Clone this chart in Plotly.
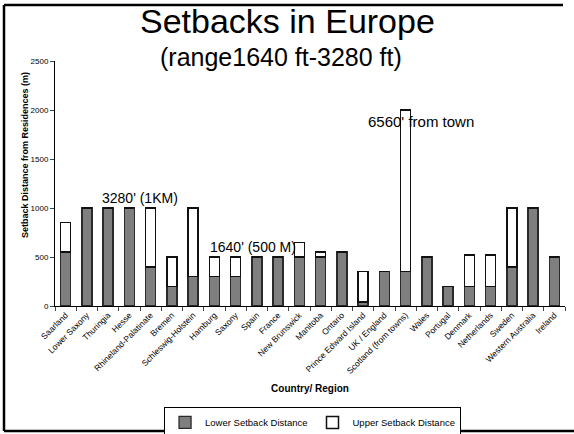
import plotly.graph_objects as go

categories = ["Saarland", "Lower Saxony", "Thuringia", "Hesse", "Rhineland-Palatinate", "Bremen",
              "Schleswig-Holstein", "Hamburg", "Saxony", "Spain", "France", "New Brunswick",
              "Manitoba", "Ontario", "Prince Edward Island", "UK / England", "Scotland (from towns)",
              "Wales", "Portugal", "Denmark", "Netherlands", "Sweden", "Western Australia", "Ireland"]
lower = [550, 1000, 1000, 1000, 400, 200, 300, 300, 300, 500, 500, 500,
         500, 550, 40, 350, 350, 500, 200, 200, 200, 400, 1000, 500]
total = [850, 1000, 1000, 1000, 1000, 500, 1000, 500, 500, 500, 500, 650,
         550, 550, 350, 350, 2000, 500, 200, 520, 520, 1000, 1000, 500]
upper = [t - l for t, l in zip(total, lower)]

FONT = "Liberation Sans, Arial, sans-serif"

fig = go.Figure()
fig.add_trace(go.Bar(x=categories, y=lower, name="Lower Setback Distance",
                     marker=dict(color="#7f7f7f", line=dict(color="#2a2a2a", width=1.3))))
fig.add_trace(go.Bar(x=categories, y=upper, name="Upper Setback Distance",
                     marker=dict(color="white", line=dict(color="#111111", width=1.5))))

# plot area: x 55..565, y 61..306 (pixels)
fig.update_layout(
    barmode="stack", bargap=0.53,
    width=574, height=434,
    margin=dict(l=55, r=9, t=61, b=128, autoexpand=False),
    paper_bgcolor="white", plot_bgcolor="white",
    font=dict(family=FONT, color="black"),
    showlegend=True,
    legend=dict(orientation="h", x=0.505, xanchor="center", y=-0.475, yanchor="middle",
                bordercolor="black", borderwidth=1, font=dict(size=9.5), traceorder="normal",
                itemwidth=30, bgcolor="white"),
)
fig.update_xaxes(showline=True, linecolor="black", linewidth=1, ticks="outside", ticklen=4,
                 tickson="boundaries", tickangle=-45, tickfont=dict(size=8.5),
                 title=dict(text="<b>Country/ Region</b>", font=dict(size=10), standoff=10))
fig.update_yaxes(range=[0, 2500], dtick=500, showline=True, linecolor="black", linewidth=1,
                 ticks="outside", ticklen=4, showgrid=False, zeroline=False, tickfont=dict(size=8))

fig.add_annotation(text="<b>Setback Distance from Residences (m)</b>", xref="paper", yref="paper",
                   x=(25 - 55) / 510, y=(306 - 155) / 245, textangle=-90, showarrow=False,
                   xanchor="center", yanchor="middle", font=dict(size=9))
fig.add_annotation(text="Setbacks in Europe", xref="paper", yref="paper", x=(287 - 55) / 510, y=1.0,
                   yshift=40, showarrow=False, xanchor="center", yanchor="middle", font=dict(size=34))
fig.add_annotation(text="(range1640 ft-3280 ft)", xref="paper", yref="paper", x=(281 - 55) / 510, y=1.0,
                   yshift=4, showarrow=False, xanchor="center", yanchor="middle", font=dict(size=25))
fig.add_annotation(text="3280' (1KM)", x=3.5, y=1102, showarrow=False, font=dict(size=14))
fig.add_annotation(text="1640' (500 M)", x=8.82, y=602, showarrow=False, font=dict(size=14))
fig.add_annotation(text="6560' from town", x=16.72, y=1878, showarrow=False, font=dict(size=15))

def px(x):
    return (x - 55) / 510

def py(y):
    return (306 - y) / 245

for x0, y0, x1, y1 in [(4, 5, 4, 431), (4, 5, 563, 5), (4, 431, 574, 431)]:
    fig.add_shape(type="line", xref="paper", yref="paper", x0=px(x0), y0=py(y0), x1=px(x1), y1=py(y1),
                  line=dict(color="black", width=2.5))

fig.write_html("out.html", config={"displayModeBar": False},
               post_script="document.body.style.margin='0px';document.body.style.overflow='hidden';")
